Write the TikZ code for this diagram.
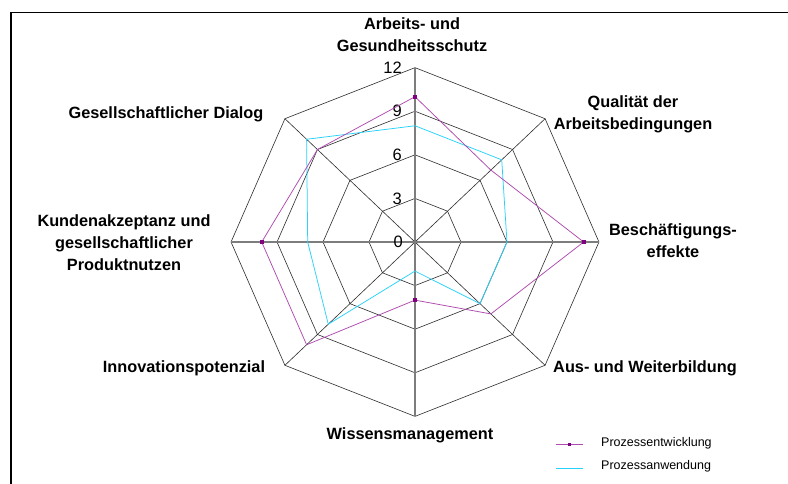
\documentclass[tikz,border=0pt]{standalone}
\usepackage{fontspec}
\setmainfont{Liberation Sans}
\usetikzlibrary{calc}
\definecolor{pecol}{RGB}{175,75,175}
\definecolor{mkcol}{RGB}{128,0,128}
\definecolor{pacol}{RGB}{40,210,250}
\definecolor{gridcol}{RGB}{45,45,45}
\definecolor{axcol}{RGB}{125,125,125}
\begin{document}
\begin{tikzpicture}[x=1pt,y=-1pt,
  lab/.style={font=\fontsize{16.3}{22}\selectfont\bfseries, align=center, inner sep=0pt},
  tick/.style={font=\fontsize{16.5}{16.5}\selectfont, inner sep=0pt, anchor=east},
  leg/.style={font=\fontsize{12.5}{12.5}\selectfont, inner sep=0pt, anchor=west},
  gridline/.style={draw=gridcol, line width=0.6pt},
  axisline/.style={draw=axcol, line width=1.5pt},
  pe/.style={draw=pecol, line width=0.75pt},
  pa/.style={draw=pacol, line width=0.75pt},
  mk/.style={fill=mkcol, minimum size=4pt, inner sep=0pt, draw=none, shape=rectangle}]
\useasboundingbox (0,0) rectangle (788,483);
\fill[white] (0,0) rectangle (788,483);
% frame
\draw[line width=1.7pt] (11,484) -- (11,12.5) -- (789,12.5);
\coordinate (c) at (415,242);
\foreach \i in {0,...,7}{
  \pgfmathsetmacro\t{90-45*\i}
  \foreach \r in {3,6,9,12}{
    \coordinate (g\r-\i) at ({415+\r*15.33*cos(\t)},{242-\r*14.53*sin(\t)});
  }
}
% rings
\foreach \r in {3,6,9,12}
  \draw[gridline] (g\r-0)--(g\r-1)--(g\r-2)--(g\r-3)--(g\r-4)--(g\r-5)--(g\r-6)--(g\r-7)--cycle;
% diagonal spokes
\foreach \i in {1,3,5,7}
  \draw[gridline] (c)--(g12-\i);
% axes
\draw[axisline] (g12-0)--(g12-4);
\draw[axisline] (g12-6)--(g12-2);
% tick labels
\foreach \r in {3,6,9,12}
  \node[tick] (t\r) at ($(g\r-0)+(-13,0)$) {\r};
\node[tick] (t0) at (403,242) {0};
% data: Prozessanwendung
\foreach \v [count=\n from 0] in {8,8,6,6,2,8,7,10}{
  \pgfmathsetmacro\t{90-45*\n}
  \coordinate (a\n) at ({415+\v*15.33*cos(\t)},{242-\v*14.53*sin(\t)});
}
\draw[pa] (a0)--(a1)--(a2)--(a3)--(a4)--(a5)--(a6)--(a7)--cycle;
% data: Prozessentwicklung
\foreach \v [count=\n from 0] in {10,7,11,7,4,10,10,9}{
  \pgfmathsetmacro\t{90-45*\n}
  \coordinate (e\n) at ({415+\v*15.33*cos(\t)},{242-\v*14.53*sin(\t)});
}
\draw[pe] (e0)--(e1)--(e2)--(e3)--(e4)--(e5)--(e6)--(e7)--cycle;
\foreach \n in {0,2,4,6}
  \node[mk] (m\n) at (e\n) {};
% axis labels
\node[lab] (l0) at (412,35) {Arbeits- und\\Gesundheitsschutz};
\node[lab] (l1) at (633,114.5) {Qualität der\\Arbeitsbedingungen};
\node[lab] (l2) at (673,241) {Beschäftigungs-\\effekte};
\node[lab] (l3) at (645,368) {Aus- und Weiterbildung};
\node[lab] (l4) at (410,435) {Wissensmanagement};
\node[lab] (l5) at (184,368) {Innovationspotenzial};
\node[lab] (l6) at (124,242.5) {Kundenakzeptanz und\\gesellschaftlicher\\Produktnutzen};
\node[lab] (l7) at (166,114) {Gesellschaftlicher Dialog};
% legend
\coordinate (lp1) at (556,444.5);
\coordinate (lp2) at (583,444.5);
\draw[pe] (lp1) -- (lp2);
\node[mk, minimum size=3.5pt] (lm) at ($(lp1)!0.5!(lp2)$) {};
\coordinate (la1) at (556,468.5);
\coordinate (la2) at (583,468.5);
\draw[pa] (la1) -- (la2);
\node[leg] (lt1) at (601,443) {Prozessentwicklung};
\node[leg] (lt2) at (601,466) {Prozessanwendung};
\end{tikzpicture}
\end{document}
